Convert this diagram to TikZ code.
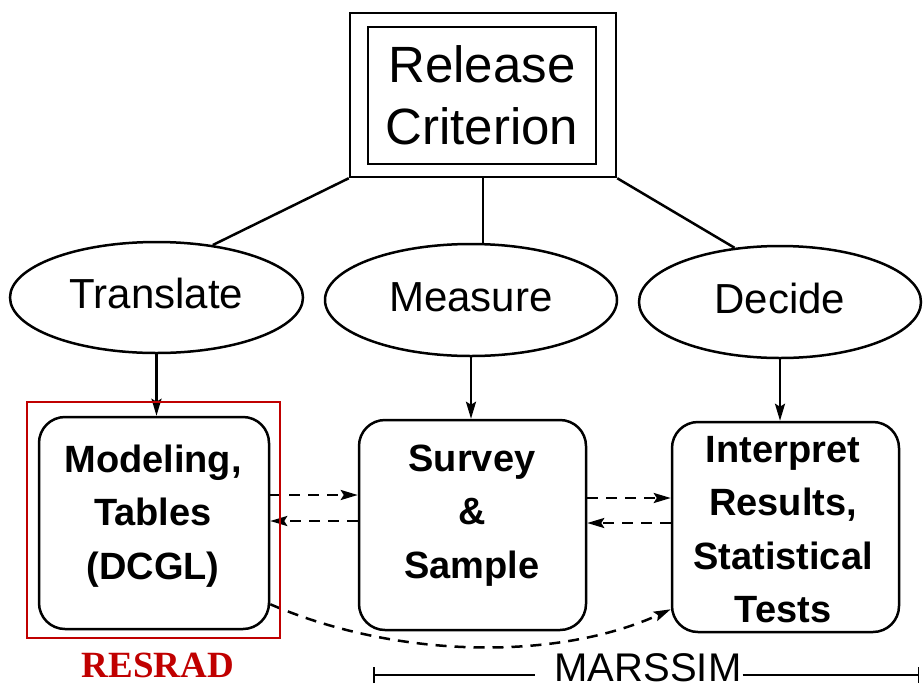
\documentclass[tikz,border=0pt]{standalone}
\usepackage{fontspec}
\setmainfont{Liberation Sans}
\newfontfamily\resradfont{Liberation Serif}
\usetikzlibrary{arrows.meta,shapes.geometric,calc}
\definecolor{resred}{RGB}{192,0,0}
\begin{document}
\begin{tikzpicture}[x=1pt,y=-1pt,line width=2.5pt,
  ell/.style={ellipse,draw,inner sep=0pt,font=\fontsize{42}{50}\selectfont,text height=30.7pt,text depth=8.7pt},
  rbox/.style={draw,rounded corners=26pt,inner sep=0pt},
  btext/.style={align=center,inner sep=0pt,font=\fontsize{38}{53.5}\selectfont\bfseries},
  arr/.style={-{Stealth[length=17pt,width=10pt,inset=3pt]}},
  dsh/.style={dash pattern=on 11pt off 8pt}]
\useasboundingbox (0,0) rectangle (923,691);
% top box
\node[draw,minimum width=266pt,minimum height=164pt,inner sep=0pt] (rc) at (483,95) {};
\node[draw,minimum width=228pt,minimum height=137pt,inner sep=0pt,align=center,
      font=\fontsize{51}{62}\selectfont] (rci) at (482,95.5) {Release\\Criterion};
% ellipses
\node[ell,minimum width=293pt,minimum height=111pt] (tr) at (156.5,297.5) {Translate};
\node[ell,minimum width=292pt,minimum height=112pt] (me) at (471,300) {Measure};
\node[ell,minimum width=282pt,minimum height=112pt] (de) at (780,302) {Decide};
% boxes
\node[rbox,minimum width=230pt,minimum height=212pt] (mod) at (154,523) {};
\node[rbox,minimum width=227pt,minimum height=210pt] (sur) at (472.5,525) {};
\node[rbox,minimum width=227pt,minimum height=210pt] (int) at (785.5,527) {};
\node[btext] (modt) at (153,516) {Modeling,\\Tables\\(DCGL)};
\node[btext] (surt) at (472,515.5) {Survey\\\&\\Sample};
\node[btext] (intt) at (783,529.5) {Interpret\\Results,\\Statistical\\Tests};
% tree lines
\draw (rc.south west) -- (tr.43);
\draw (rc.south) -- (rc.south |- me.north);
\draw (rc.south east) -- (de.130);
% down arrows
\draw[arr] (tr.south) -- (tr.south |- mod.north);
\draw[arr] (me.south) -- (me.south |- sur.north);
\draw[arr] (de.south) -- (de.south |- int.north);
% dashed arrows
\draw[arr,dsh] (mod.east |- 0,495) -- (sur.west |- 0,495);
\draw[arr,dsh] (sur.west |- 0,521) -- (mod.east |- 0,521);
\draw[arr,dsh] (sur.east |- 0,498) -- (int.west |- 0,498);
\draw[arr,dsh] (int.west |- 0,523) -- (sur.east |- 0,523);
\draw[arr,dsh] ([yshift=26pt]mod.south east) .. controls (400,660) and (560,660) .. ([yshift=24pt]int.south west);
% RESRAD
\node[draw=resred,line width=2.2pt,minimum width=253pt,minimum height=236pt,inner sep=0pt] (rb) at (153.5,520) {};
\node[inner sep=0pt,text=resred,font=\resradfont\bfseries\fontsize{37}{42}\selectfont] (rs) at (158,665) {RESRAD};
% MARSSIM
\node[inner sep=0pt,font=\fontsize{40}{48}\selectfont] (ms) at (648,668) {MARSSIM};
\coordinate (ml) at (373,675);
\coordinate (mr) at (919,675);
\draw[line width=1.5pt,{Bar[width=16pt]}-,shorten >=18pt] (ml) -- (ml -| ms.west);
\draw[line width=1.5pt,-{Bar[width=16pt]}] (mr -| ms.east) -- (mr);
\end{tikzpicture}
\end{document}
